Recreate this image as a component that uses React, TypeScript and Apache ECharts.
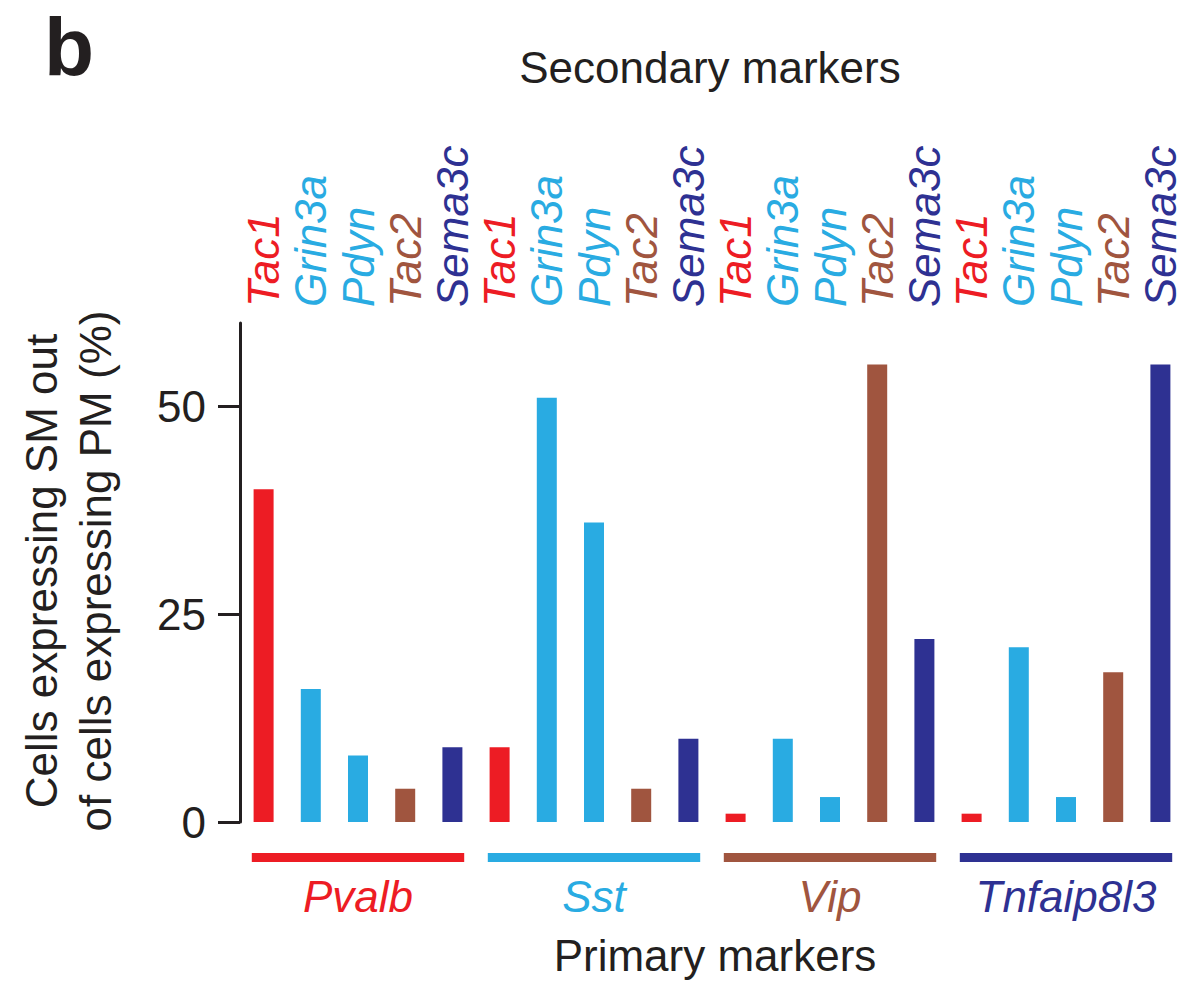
import React, { useEffect, useRef } from "react";
import * as echarts from "echarts";

const primaryMarkers = ["Pvalb", "Sst", "Vip", "Tnfaip8l3"];
const secondaryMarkers = ["Tac1", "Grin3a", "Pdyn", "Tac2", "Sema3c"];
const pvalbValues = [40, 16, 8, 4, 9];
const sstValues = [9, 51, 36, 4, 10];
const vipValues = [1, 10, 3, 55, 22];
const tnfaip8l3Values = [1, 21, 3, 18, 55];
const yTickValues = [0, 25, 50];
const secondaryColors = ["#ED1C24", "#29ABE2", "#29ABE2", "#A0553F", "#2E3192"];
const primaryColors = ["#ED1C24", "#29ABE2", "#A0553F", "#2E3192"];

const FONT = "'Liberation Sans', Arial, Helvetica, sans-serif";
const INK = "#231F20";

export default function App() {
  const ref = useRef<HTMLDivElement>(null);
  useEffect(() => {
    document.body.style.margin = "0";
    if (!ref.current) return;
    const chart = echarts.init(ref.current, null, { renderer: "svg" });

    const groupValues = [pvalbValues, sstValues, vipValues, tnfaip8l3Values];
    const catKeys: string[] = [];
    const barData: any[] = [];
    primaryMarkers.forEach((pm, gi) => {
      secondaryMarkers.forEach((sm, si) => {
        catKeys.push(pm + "|" + sm);
        barData.push({
          value: groupValues[gi][si],
          itemStyle: { color: secondaryColors[si] },
        });
      });
    });

    const option: any = {
      animation: false,
      backgroundColor: "#ffffff",
      textStyle: { fontFamily: FONT },
      grid: [
        { left: 240, top: 323, width: 944, height: 499, containLabel: false, outerBoundsMode: "none" },
        { left: 240, top: 853, width: 944, height: 9, containLabel: false, outerBoundsMode: "none" },
      ],
      xAxis: [
        {
          type: "category",
          gridIndex: 0,
          position: "top",
          data: catKeys,
          axisLine: { show: false },
          axisTick: { show: false },
          splitLine: { show: false },
          axisLabel: {
            interval: 0,
            rotate: 90,
            margin: 16,
            fontSize: 44,
            fontStyle: "italic",
            fontFamily: FONT,
            formatter: (v: string) => v.split("|")[1],
            color: (_v: any, i: number) => secondaryColors[i % secondaryMarkers.length],
          },
        },
        {
          type: "category",
          gridIndex: 1,
          position: "bottom",
          data: primaryMarkers,
          axisLine: { show: false },
          axisTick: { show: false },
          splitLine: { show: false },
          axisLabel: {
            interval: 0,
            margin: 12,
            fontSize: 44,
            fontStyle: "italic",
            fontFamily: FONT,
            color: (_v: any, i: number) => primaryColors[i],
          },
        },
      ],
      yAxis: [
        {
          type: "value",
          gridIndex: 0,
          min: 0,
          max: 60,
          interval: 25,
          splitLine: { show: false },
          axisLine: { show: true, lineStyle: { color: INK, width: 3 } },
          axisTick: {
            show: true,
            length: 22,
            lineStyle: { color: INK, width: 3 },
            customValues: yTickValues,
          },
          axisLabel: {
            margin: 34,
            fontSize: 44,
            color: INK,
            fontFamily: FONT,
            customValues: yTickValues,
          },
        },
        {
          type: "value",
          gridIndex: 1,
          min: 0,
          max: 1,
          show: false,
        },
      ],
      series: [
        {
          type: "bar",
          xAxisIndex: 0,
          yAxisIndex: 0,
          barWidth: 20,
          data: barData,
        },
        {
          type: "bar",
          xAxisIndex: 1,
          yAxisIndex: 1,
          barWidth: "90%",
          data: primaryMarkers.map((_, i) => ({ value: 1, itemStyle: { color: primaryColors[i] } })),
        },
      ],
      graphic: [
        {
          type: "text",
          x: 44,
          y: 46,
          style: {
            text: "b",
            font: `bold 82px ${FONT}`,
            fill: INK,
            verticalAlign: "middle",
          },
        },
        {
          type: "text",
          x: 710,
          y: 67,
          style: { text: "Secondary markers", font: `44px ${FONT}`, fill: INK, align: "center", verticalAlign: "middle" },
        },
        {
          type: "text",
          x: 715,
          y: 955,
          style: { text: "Primary markers", font: `44px ${FONT}`, fill: INK, align: "center", verticalAlign: "middle" },
        },
        {
          type: "text",
          x: 68,
          y: 571,
          rotation: Math.PI / 2,
          style: {
            text: "Cells expressing SM out\nof cells expressing PM (%)",
            font: `44px ${FONT}`,
            fill: INK,
            align: "center",
            verticalAlign: "middle",
            lineHeight: 54,
          },
        },
      ],
    };
    chart.setOption(option);
    return () => chart.dispose();
  }, []);
  return <div ref={ref} style={{ width: 1202, height: 982 }} />;
}
